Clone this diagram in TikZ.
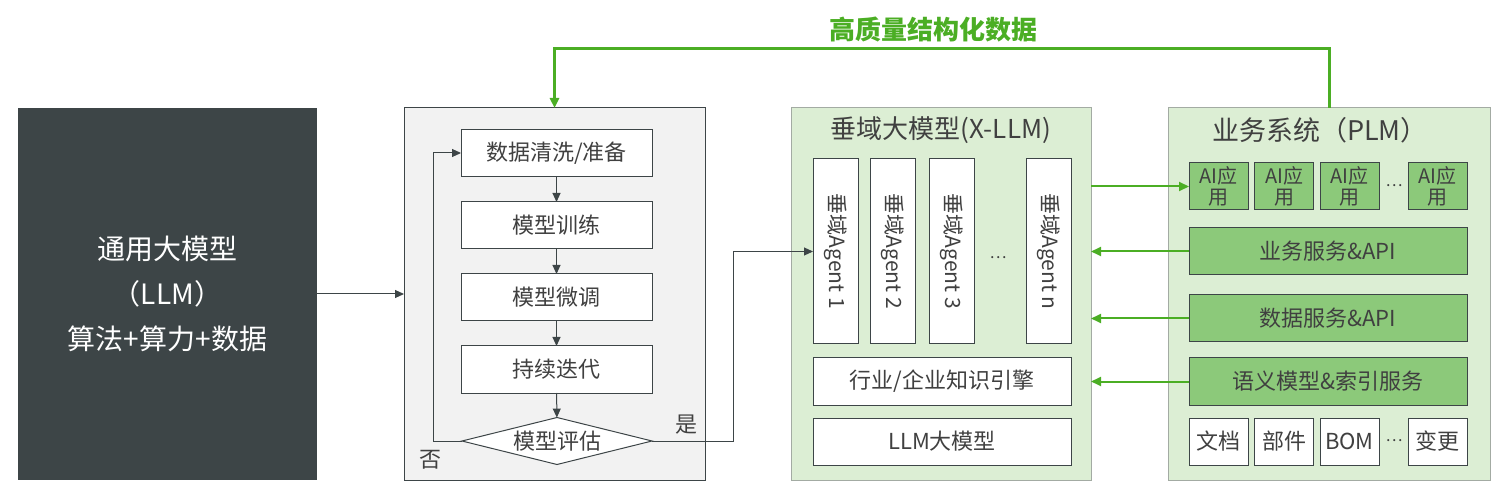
\documentclass[tikz,border=0pt]{standalone}
\usepackage{fontspec}
\setmainfont{Noto Sans CJK SC}
\usetikzlibrary{shapes.geometric,arrows.meta}
\definecolor{slate}{HTML}{3D4547}
\definecolor{ink}{HTML}{404040}
\definecolor{paleback}{HTML}{F2F2F2}
\definecolor{palegreen}{HTML}{DCEED4}
\definecolor{midgreen}{HTML}{8CC97A}
\definecolor{leaf}{HTML}{4BAE24}
\definecolor{rim}{HTML}{A3ABA3}
\begin{document}
\begin{tikzpicture}[x=1pt,y=-1pt,inner sep=0pt,outer sep=0pt,line width=1pt,
font=\fontsize{22}{26}\selectfont,text=ink,
panel/.style={draw=rim,fill=palegreen,rectangle,minimum width=300pt,minimum height=372pt},
stepbox/.style={draw=slate,fill=white,rectangle,minimum width=191pt,minimum height=47pt},
agentbox/.style={draw=slate,fill=white,rectangle,rotate=-90,minimum width=185pt,minimum height=45pt,font=\fontsize{21}{24}\selectfont},
widebox/.style={draw=slate,fill=white,rectangle,minimum width=258pt,minimum height=47pt},
svcbox/.style={draw=slate,fill=midgreen,rectangle,minimum width=278pt,minimum height=47pt},
appbox/.style={draw=slate,fill=midgreen,rectangle,minimum width=59pt,minimum height=47pt,align=center,font=\fontsize{20}{21}\selectfont},
docbox/.style={draw=slate,fill=white,rectangle,minimum width=59pt,minimum height=47pt},
arr/.style={draw=slate,-{Triangle[length=9pt,width=8pt]}},
garr/.style={draw=leaf,line width=2pt,-{Triangle[length=10pt,width=9pt]}}]
\useasboundingbox (0,0) rectangle (1505,494);
% general model
\node[fill=slate,rectangle,minimum width=299pt,minimum height=372pt,text=white,align=center,
  font=\fontsize{28}{45}\selectfont] (llm) at (167.5,294) {通用大模型\\（LLM）\\算法+算力+数据};
% training loop
\node[draw=slate,fill=paleback,rectangle,minimum width=301pt,minimum height=372pt] (flow) at (554.5,294) {};
\node[stepbox] (clean) at (556.5,153) {数据清洗/准备};
\node[stepbox] (train) at (556.5,225.5) {模型训练};
\node[stepbox] (tune) at (556.5,297.5) {模型微调};
\node[stepbox] (iter) at (556.5,369.5) {持续迭代};
\node[draw=slate,fill=white,diamond,aspect=4,minimum width=190pt,minimum height=47pt] (eval) at (557,441) {模型评估};
\node (no) at (430,460) {否};
\node (yes) at (686,425) {是};
\draw[arr] (llm.east) -- (flow.west);
\draw[arr] (clean) -- (train);
\draw[arr] (train) -- (tune);
\draw[arr] (tune) -- (iter);
\draw[arr] (iter) -- (eval);
\draw[arr] (eval.west) -- ++(-29,0) |- (clean.west);
% vertical model
\node[panel] (xllm) at (941,294) {};
\node[font=\fontsize{26}{30}\selectfont] (xtitle) at (941,130) {垂域大模型(X-LLM)};
\node[agentbox] (ag1) at (835.5,251.5) {垂域Agent 1};
\node[agentbox] (ag2) at (893,251.5) {垂域Agent 2};
\node[agentbox] (ag3) at (951.5,251.5) {垂域Agent 3};
\node[font=\fontsize{16}{18}\selectfont] (agdots) at (998,258) {…};
\node[agentbox] (agn) at (1048.5,251.5) {垂域Agent n};
\node[widebox] (engine) at (942,381.5) {行业/企业知识引擎};
\node[widebox] (base) at (942,441.5) {LLM大模型};
\draw[arr] (eval.east) -- ++(81,0) |- (ag1.south);
% business system
\node[panel,minimum width=322pt] (plm) at (1329,294) {};
\node[font=\fontsize{27}{30}\selectfont] (ptitle) at (1320,130) {业务系统（PLM）};
\node[appbox] (app1) at (1218.5,186.5) {AI应\\用};
\node[appbox] (app2) at (1284,186.5) {AI应\\用};
\node[appbox] (app3) at (1349.5,186.5) {AI应\\用};
\node[font=\fontsize{16}{18}\selectfont] (appdots) at (1394,186) {…};
\node[appbox] (appn) at (1437.5,186.5) {AI应\\用};
\node[svcbox] (biz) at (1328,251.5) {业务服务\&API};
\node[svcbox] (data) at (1328,318.5) {数据服务\&API};
\node[svcbox] (sem) at (1328,381.5) {语义模型\&索引服务};
\node[docbox] (doc) at (1218.5,441.5) {文档};
\node[docbox] (part) at (1284,441.5) {部件};
\node[docbox] (bom) at (1349.5,441.5) {BOM};
\node[font=\fontsize{16}{18}\selectfont] (docdots) at (1394,441) {…};
\node[docbox] (chg) at (1437.5,441.5) {变更};
\draw[garr] (app1.west -| xllm.east) -- (app1.west);
\draw[garr] (biz.west) -- (biz.west -| xllm.east);
\draw[garr] (data.west) -- (data.west -| xllm.east);
\draw[garr] (sem.west) -- (sem.west -| xllm.east);
% feedback
\node[text=leaf,font=\fontsize{26}{30}\selectfont\bfseries] (feed) at (933,30) {高质量结构化数据};
\draw[garr,line width=3pt] (plm.north) -- ++(0,-59) -| (flow.north);
\end{tikzpicture}
\end{document}
